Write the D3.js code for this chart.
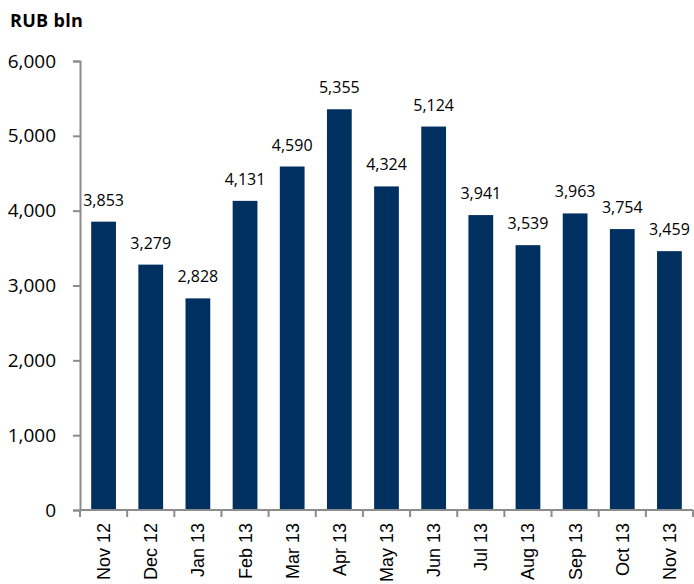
<!DOCTYPE html>
<html>
<head>
<meta charset="utf-8">
<script src="https://cdn.jsdelivr.net/npm/d3@7"></script>
<style>
  body { margin: 0; background: #fff; }
  svg text { font-family: "Open Sans", "Noto Sans", sans-serif; fill: #000; }
  svg text.lbl { font-family: "Liberation Sans", Arial, sans-serif; }
</style>
</head>
<body>
<div id="chart"></div>
<script>
// data
const months = ["Nov 12", "Dec 12", "Jan 13", "Feb 13", "Mar 13", "Apr 13", "May 13",
                "Jun 13", "Jul 13", "Aug 13", "Sep 13", "Oct 13", "Nov 13"];
const values = [3853, 3279, 2828, 4131, 4590, 5355, 4324, 5124, 3941, 3539, 3963, 3754, 3459];
const yTicks = [0, 1000, 2000, 3000, 4000, 5000, 6000];

const width = 694, height = 584;
const margin = {top: 61, right: 1, bottom: 74, left: 80};

const svg = d3.select("#chart").append("svg")
    .attr("width", width)
    .attr("height", height);

const x = d3.scaleBand()
    .domain(months)
    .range([margin.left, width - margin.right])
    .paddingInner(0.475)
    .paddingOuter(0.2375);

const y = d3.scaleLinear()
    .domain([0, 6000])
    .range([height - margin.bottom, margin.top]);

const fmt = d3.format(",");

// title
svg.append("text")
    .attr("x", 10)
    .attr("y", 27)
    .attr("font-size", 18)
    .attr("font-weight", "bold")
    .attr("letter-spacing", 0.3)
    .text("RUB bln");

// bars
svg.selectAll("rect.bar")
    .data(values)
    .enter()
    .append("rect")
    .attr("class", "bar")
    .attr("x", (d, i) => x(months[i]))
    .attr("y", d => y(d))
    .attr("width", x.bandwidth())
    .attr("height", d => y(0) - y(d))
    .attr("fill", "#00305f");

// value labels
svg.selectAll("text.val")
    .data(values)
    .enter()
    .append("text")
    .attr("class", "val")
    .attr("x", (d, i) => x(months[i]) + x.bandwidth() / 2)
    .attr("y", d => y(d) - 16)
    .attr("text-anchor", "middle")
    .attr("font-size", 16)
    .text(d => fmt(d));

// y axis
const yAxis = svg.append("g")
    .attr("transform", "translate(" + margin.left + ",0)")
    .call(d3.axisLeft(y).tickValues(yTicks).tickFormat(fmt).tickSize(7).tickPadding(17));

yAxis.select(".domain").attr("stroke", "#8c8c8c").attr("stroke-width", 2);
yAxis.selectAll(".tick line").attr("stroke", "#8c8c8c").attr("stroke-width", 2);
yAxis.selectAll(".tick text").attr("font-size", 19).attr("font-family", null);

// x axis: ticks at category boundaries
const xAxis = svg.append("g")
    .attr("transform", "translate(0," + y(0) + ")");

xAxis.append("line")
    .attr("x1", margin.left)
    .attr("x2", width - margin.right)
    .attr("stroke", "#8c8c8c")
    .attr("stroke-width", 2);

const step = x.step();
xAxis.selectAll("line.tk")
    .data(d3.range(months.length + 1))
    .enter()
    .append("line")
    .attr("class", "tk")
    .attr("x1", i => margin.left + i * step)
    .attr("x2", i => margin.left + i * step)
    .attr("y1", 0)
    .attr("y2", 7)
    .attr("stroke", "#8c8c8c")
    .attr("stroke-width", 2);

xAxis.selectAll("text.lbl")
    .data(months)
    .enter()
    .append("text")
    .attr("class", "lbl")
    .attr("transform", d => "translate(" + (x(d) + x.bandwidth() / 2 + 6.5) + ",13) rotate(-90)")
    .attr("text-anchor", "end")
    .attr("font-size", 18)
    .text(d => d);
</script>
</body>
</html>
